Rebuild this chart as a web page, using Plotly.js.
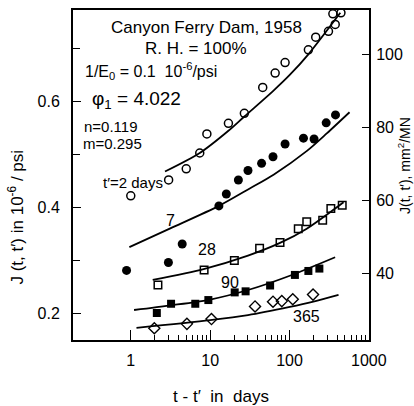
<!DOCTYPE html>
<html>
<head>
<meta charset="utf-8">
<script src="https://cdn.plot.ly/plotly-3.0.1.min.js"></script>
<style>html,body{margin:0;padding:0;background:#fff;}#chart{width:414px;height:406px;}</style>
</head>
<body>
<div id="chart"></div>
<script>
// ---- measured data: t - t' (days) and J (10^-6/psi) ----
const t2_t = [1, 3.0, 5.0, 7.4, 9.1, 17, 27, 46, 66, 88, 173, 214, 310, 377, 352, 445];
const t2_J = [0.422, 0.452, 0.473, 0.503, 0.539, 0.559, 0.578, 0.627, 0.654, 0.674, 0.698, 0.722, 0.733, 0.746, 0.766, 0.768];

const t7_t = [0.885, 2.98, 4.45, 12.9, 16, 22.7, 30, 44.5, 62, 88, 150, 204, 290, 380];
const t7_J = [0.281, 0.296, 0.331, 0.403, 0.4255, 0.452, 0.470, 0.4835, 0.496, 0.520, 0.531, 0.5295, 0.560, 0.575];

const t28_t = [2.2, 8.4, 20.2, 42, 76, 129, 165, 262, 332, 462];
const t28_J = [0.2535, 0.282, 0.300, 0.323, 0.334, 0.360, 0.373, 0.376, 0.398, 0.404];

const t90_t = [2.13, 3.22, 6.5, 9.5, 20.4, 28, 57, 117, 173, 238];
const t90_J = [0.2005, 0.218, 0.218, 0.225, 0.2395, 0.2415, 0.2525, 0.2725, 0.280, 0.2845];

const t365_t = [1.98, 5.1, 10.4, 36.8, 62, 80, 110, 198];
const t365_J = [0.1717, 0.180, 0.189, 0.213, 0.222, 0.223, 0.2265, 0.2353];

// fitted curves
const fit2_t = [2.7, 7.4, 17, 27, 62, 100, 174, 437];
const fit2_J = [0.468, 0.503, 0.545, 0.572, 0.620, 0.650, 0.690, 0.768];
const fit7_t = [0.96, 3.1, 12.9, 31.6, 63, 166, 295, 571];
const fit7_J = [0.325, 0.360, 0.403, 0.436, 0.462, 0.507, 0.540, 0.580];
const fit28_t = [1.89, 8.5, 30, 76, 165, 480];
const fit28_J = [0.263, 0.284, 0.309, 0.333, 0.360, 0.410];
const fit90_t = [1.1, 3.2, 10, 30, 101, 376];
const fit90_J = [0.2062, 0.215, 0.226, 0.244, 0.271, 0.306];
const fit365_t = [1.18, 10, 30, 101, 200, 415];
const fit365_J = [0.1725, 0.187, 0.1965, 0.212, 0.222, 0.2346];

const xTickVals = [1, 10, 100, 1000];
const xTickText = ['1', '10', '100', '1000'];
const yTickVals = [0.2, 0.4, 0.6];
const yTickText = ['0.2', '0.4', '0.6'];
const yMinorVals = [0.3, 0.5, 0.7];
const y2TickVals = [40, 60, 80, 100];
const y2TickText = ['40', '60', '80', '100'];
const psiToMN = 145.04; // 10^-6/psi -> 10^-6 mm^2/N

// ---- layout helpers (plot frame in pixels) ----
const L = 72.5, R = 369, T = 10, B = 340;
const px = x => (x - L) / (R - L);
const py = y => (B - y) / (B - T);
const FONT = 'Liberation Sans, Arial, Helvetica, sans-serif';

const xMinor = [];
[1, 10, 100].forEach(d => { for (let k = 2; k <= 9; k++) xMinor.push(k * d); });

const lineStyle = {color: 'black', width: 1.8, shape: 'spline', smoothing: 0.8};
const traces = [
  {x: fit2_t, y: fit2_J, mode: 'lines', line: lineStyle},
  {x: fit7_t, y: fit7_J, mode: 'lines', line: lineStyle},
  {x: fit28_t, y: fit28_J, mode: 'lines', line: lineStyle},
  {x: fit90_t, y: fit90_J, mode: 'lines', line: lineStyle},
  {x: fit365_t, y: fit365_J, mode: 'lines', line: lineStyle},
  {x: t2_t, y: t2_J, mode: 'markers', marker: {symbol: 'circle-open', size: 8, color: 'black', line: {width: 1.5}}},
  {x: t7_t, y: t7_J, mode: 'markers', marker: {symbol: 'circle', size: 9, color: 'black'}},
  {x: t28_t, y: t28_J, mode: 'markers', marker: {symbol: 'square-open', size: 7.5, color: 'black', line: {width: 1.5}}},
  {x: t90_t, y: t90_J, mode: 'markers', marker: {symbol: 'square', size: 8, color: 'black'}},
  {x: t365_t, y: t365_J, mode: 'markers', marker: {symbol: 'diamond-open', size: 8.5, color: 'black', line: {width: 1.4}}},
  {x: [1], y: [40], yaxis: 'y2', mode: 'markers', marker: {size: 1, opacity: 0}, hoverinfo: 'skip'}
];

const yRange = [0.1495, 0.7733];
const ann = (text, x, y, xanchor, size, angle) => ({
  text: text, xref: 'paper', yref: 'paper', x: px(x), y: py(y),
  xanchor: xanchor, yanchor: 'middle', showarrow: false, textangle: angle || 0,
  font: {family: FONT, size: size || 16, color: 'black'}
});

const layout = {
  width: 414, height: 406,
  margin: {l: L, r: 414 - R, t: T, b: 406 - B, pad: 0},
  paper_bgcolor: 'white', plot_bgcolor: 'white',
  showlegend: false,
  font: {family: FONT, color: 'black', size: 15},
  xaxis: {
    type: 'log', range: [-0.728, 3.002],
    tickmode: 'array', tickvals: xTickVals, ticktext: xTickText,
    ticks: 'inside', ticklen: 10, tickwidth: 1.2, tickcolor: 'black',
    minor: {tickmode: 'array', tickvals: xMinor, ticks: 'inside', ticklen: 5, tickwidth: 1, tickcolor: 'black', showgrid: false},
    showgrid: false, zeroline: false,
    showline: true, linecolor: 'black', linewidth: 2, mirror: true,
    tickfont: {size: 16}, ticklabelstandoff: 5,
    title: {text: 't - t\u2032  in  days', font: {size: 17}, standoff: 25}
  },
  yaxis: {
    range: yRange,
    tickmode: 'array', tickvals: yTickVals, ticktext: yTickText,
    ticks: 'inside', ticklen: 8, tickwidth: 1.2, tickcolor: 'black',
    minor: {tickmode: 'array', tickvals: yMinorVals, ticks: 'inside', ticklen: 7, tickwidth: 1, tickcolor: 'black', showgrid: false},
    showgrid: false, zeroline: false,
    showline: true, linecolor: 'black', linewidth: 2,
    tickfont: {size: 16}, ticklabelstandoff: 8,
    title: {text: ''}
  },
  yaxis2: {
    overlaying: 'y', side: 'right',
    range: [yRange[0] * psiToMN, yRange[1] * psiToMN],
    tickmode: 'array', tickvals: y2TickVals, ticktext: y2TickText,
    ticks: 'inside', ticklen: 7, tickwidth: 1.2, tickcolor: 'black',
    showgrid: false, zeroline: false,
    showline: true, linecolor: 'black', linewidth: 2,
    tickfont: {size: 16}, ticklabelstandoff: 2,
    title: {text: ''}
  },
  annotations: [
    ann('J (t, t\u2032) in 10<sup>-6</sup> / psi', 15, 217, 'center', 17, -90),
    ann('J(t, t\u2032), mm<sup>2</sup>/MN', 404, 165, 'center', 14, -90),
    ann('Canyon Ferry Dam, 1958', 206, 27, 'center', 17),
    ann('R. H. = 100%', 196, 49, 'center', 17),
    ann('1/E<sub>0</sub> = 0.1  10<sup>-6</sup>/psi', 83, 71, 'left', 16),
    ann('\u03c6<sub>1</sub> = 4.022', 90, 100, 'left', 19),
    ann('n=0.119', 82, 127, 'left', 15),
    ann('m=0.295', 81, 144, 'left', 15),
    ann('t\u2032=2 days', 101, 182, 'left', 15),
    ann('7', 170, 220, 'center', 16),
    ann('28', 207, 249, 'center', 16),
    ann('90', 230, 282, 'center', 16),
    ann('365', 306, 316, 'center', 16)
  ]
};

Plotly.newPlot('chart', traces, layout, {staticPlot: true, displayModeBar: false});
</script>
</body>
</html>
